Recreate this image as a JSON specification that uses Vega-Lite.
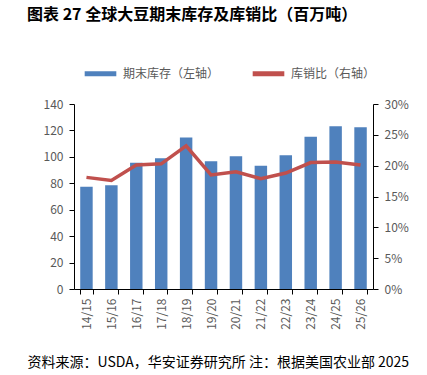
{
  "$schema": "https://vega.github.io/schema/vega-lite/v6.json",
  "width": 299,
  "height": 185,
  "autosize": {"type": "none"},
  "padding": {"left": 74, "top": 104, "right": 54, "bottom": 86},
  "background": "white",
  "title": {
    "text": "图表 27 全球大豆期末库存及库销比（百万吨）",
    "anchor": "start",
    "frame": "group",
    "dx": -47,
    "dy": -28,
    "fontSize": 16,
    "fontWeight": "bold",
    "font": "Noto Sans CJK SC",
    "color": "#000000"
  },
  "config": {
    "view": {"stroke": null},
    "font": "Noto Sans CJK SC",
    "axis": {
      "labelColor": "#595959",
      "labelFontSize": 12,
      "labelFont": "Noto Sans CJK SC",
      "domainColor": "#000000",
      "tickColor": "#000000",
      "grid": false,
      "tickSize": 5
    }
  },
  "data": {
    "values": [
      {"year": "14/15", "stock": 77.4, "ratio": 0.181},
      {"year": "15/16", "stock": 78.6, "ratio": 0.176},
      {"year": "16/17", "stock": 95.6, "ratio": 0.201},
      {"year": "17/18", "stock": 99.0, "ratio": 0.203},
      {"year": "18/19", "stock": 114.6, "ratio": 0.232},
      {"year": "19/20", "stock": 96.7, "ratio": 0.185},
      {"year": "20/21", "stock": 100.5, "ratio": 0.190},
      {"year": "21/22", "stock": 93.2, "ratio": 0.179},
      {"year": "22/23", "stock": 101.3, "ratio": 0.188},
      {"year": "23/24", "stock": 115.2, "ratio": 0.205},
      {"year": "24/25", "stock": 123.2, "ratio": 0.206},
      {"year": "25/26", "stock": 122.4, "ratio": 0.201}
    ]
  },
  "encoding": {
    "x": {
      "field": "year",
      "type": "nominal",
      "sort": null,
      "scale": {"paddingInner": 0.5, "paddingOuter": 0.25},
      "axis": {
        "labelAngle": -90,
        "labelAlign": "right",
        "labelBaseline": "middle",
        "tickBand": "extent",
        "labelPadding": 4,
        "title": "资料来源：USDA，华安证券研究所  注：根据美国农业部 2025",
        "titleFontSize": 14,
        "titleFontWeight": "normal",
        "titleColor": "#000000",
        "titleAnchor": "start",
        "titleAlign": "left",
        "titleX": -47,
        "titleY": 73,
        "titleBaseline": "middle"
      }
    }
  },
  "layer": [
    {
      "mark": {"type": "bar", "color": "#4F81BD"},
      "encoding": {
        "y": {
          "field": "stock",
          "type": "quantitative",
          "scale": {"domain": [0, 140]},
          "axis": {"values": [0, 20, 40, 60, 80, 100, 120, 140], "title": null, "orient": "left", "labelPadding": 6}
        },
        "color": {
          "datum": "期末库存（左轴）",
          "type": "nominal",
          "scale": {"domain": ["期末库存（左轴）", "库销比（右轴）"], "range": ["#4F81BD", "#C0504D"]},
          "legend": {
            "title": null,
            "orient": "none",
            "direction": "horizontal",
            "legendX": 8,
            "legendY": -49,
            "labelColor": "#595959",
            "labelFontSize": 12,
            "columnPadding": 22,
            "symbolSize": 1000,
            "labelOffset": 4,
            "encode": {
              "symbols": {
                "update": {
                  "shape": {"value": "stroke"},
                  "stroke": {"field": "value", "scale": "color"},
                  "strokeWidth": {"value": 5},
                  "fill": {"value": "transparent"}
                }
              }
            }
          }
        }
      }
    },
    {
      "mark": {"type": "line", "color": "#C0504D", "strokeWidth": 3.5},
      "encoding": {
        "y": {
          "field": "ratio",
          "type": "quantitative",
          "scale": {"domain": [0, 0.3]},
          "axis": {"values": [0, 0.05, 0.1, 0.15, 0.2, 0.25, 0.3], "format": ".0%", "title": null, "orient": "right", "labelPadding": 6}
        },
        "color": {"datum": "库销比（右轴）", "type": "nominal"}
      }
    }
  ],
  "resolve": {"scale": {"y": "independent"}}
}
